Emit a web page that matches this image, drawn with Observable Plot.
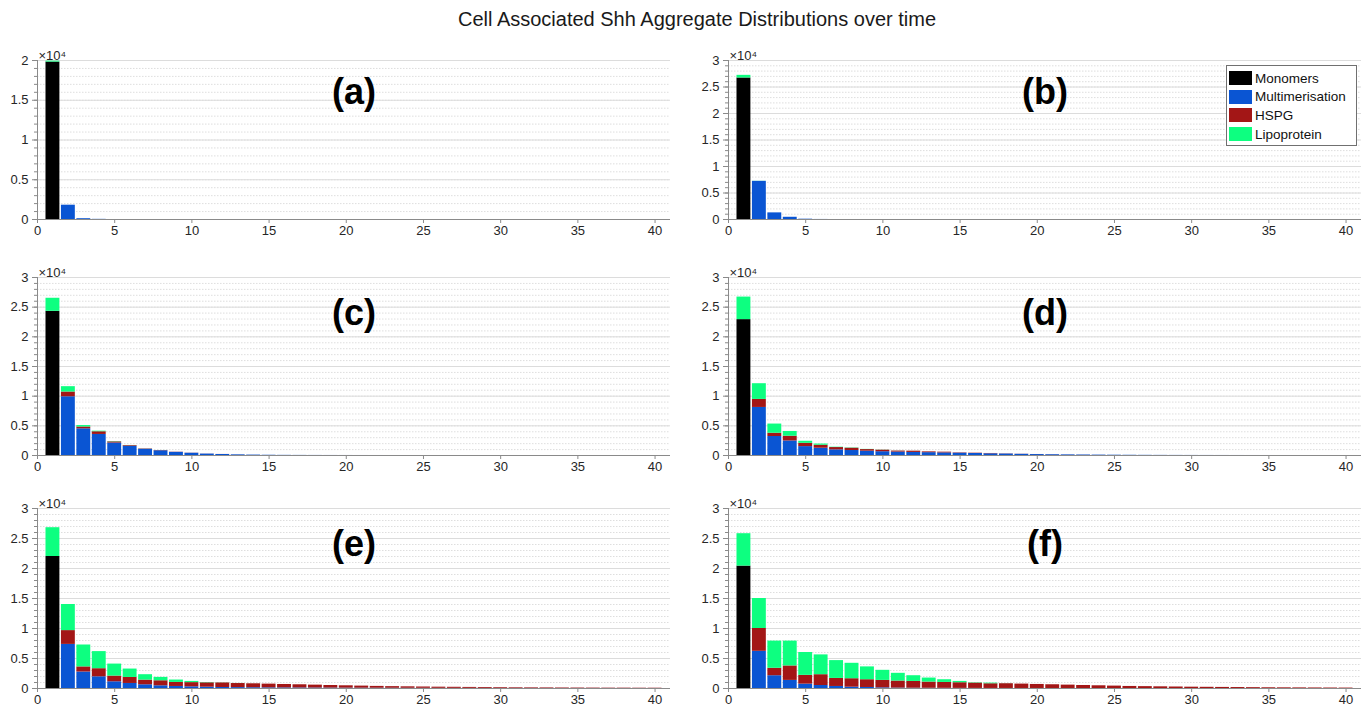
<!DOCTYPE html>
<html>
<head>
<meta charset="utf-8">
<script src="https://cdn.jsdelivr.net/npm/d3@7"></script>
<script src="https://cdn.jsdelivr.net/npm/@observablehq/plot@0.6"></script>
<style>
  html, body { margin: 0; padding: 0; background: #fff; }
  body { font-family: "Liberation Sans", Arial, Helvetica, sans-serif; }
  #wrap { position: relative; width: 1370px; height: 711px; overflow: hidden; background: #fff; }
  #title { position: absolute; left: 12px; top: 8px; width: 1370px; text-align: center; font-size: 20px; color: #1a1a1a; }
  .panel { position: absolute; }
  #legend { position: absolute; left: 1226px; top: 65px; width: 129px; height: 76px; border: 1px solid #707070; background: #fff; box-sizing: content-box; padding-top: 3px; }
  .lrow { display: flex; align-items: center; height: 18.6px; font-size: 13.5px; color: #111; }
  .sw { width: 23px; height: 14px; margin-left: 2px; margin-right: 3px; }
</style>
</head>
<body>
<div id="wrap">
  <div id="title">Cell Associated Shh Aggregate Distributions over time</div>
</div>
<script>
// ---------- data ----------
const categories = ["Monomers", "Multimerisation", "HSPG", "Lipoprotein"];
const colors = ["#000000", "#0a55d3", "#a31616", "#0dff80"];
const sizes = [1,2,3,4,5,6,7,8,9,10, 11,12,13,14,15,16,17,18,19,20, 21,22,23,24,25,26,27,28,29,30, 31,32,33,34,35,36,37,38,39,40];
const xTicks = [0, 5, 10, 15, 20, 25, 30, 35, 40];
const panelLabels = ["(a)", "(b)", "(c)", "(d)", "(e)", "(f)"];
const yMaxes = [20000, 30000, 30000, 30000, 30000, 30000];

// (a)
const aMono  = [19800,0,0,0,0,0,0,0,0,0, 0,0,0,0,0,0,0,0,0,0, 0,0,0,0,0,0,0,0,0,0, 0,0,0,0,0,0,0,0,0,0];
const aMulti = [0,1800,100,20,0,0,0,0,0,0, 0,0,0,0,0,0,0,0,0,0, 0,0,0,0,0,0,0,0,0,0, 0,0,0,0,0,0,0,0,0,0];
const aHspg  = [0,0,0,0,0,0,0,0,0,0, 0,0,0,0,0,0,0,0,0,0, 0,0,0,0,0,0,0,0,0,0, 0,0,0,0,0,0,0,0,0,0];
const aLipo  = [120,0,0,0,0,0,0,0,0,0, 0,0,0,0,0,0,0,0,0,0, 0,0,0,0,0,0,0,0,0,0, 0,0,0,0,0,0,0,0,0,0];
// (b)
const bMono  = [26700,0,0,0,0,0,0,0,0,0, 0,0,0,0,0,0,0,0,0,0, 0,0,0,0,0,0,0,0,0,0, 0,0,0,0,0,0,0,0,0,0];
const bMulti = [0,7200,1250,420,60,10,0,0,0,0, 0,0,0,0,0,0,0,0,0,0, 0,0,0,0,0,0,0,0,0,0, 0,0,0,0,0,0,0,0,0,0];
const bHspg  = [0,0,0,0,0,0,0,0,0,0, 0,0,0,0,0,0,0,0,0,0, 0,0,0,0,0,0,0,0,0,0, 0,0,0,0,0,0,0,0,0,0];
const bLipo  = [500,20,0,0,0,0,0,0,0,0, 0,0,0,0,0,0,0,0,0,0, 0,0,0,0,0,0,0,0,0,0, 0,0,0,0,0,0,0,0,0,0];
// (c)
const cMono  = [24300,0,0,0,0,0,0,0,0,0, 0,0,0,0,0,0,0,0,0,0, 0,0,0,0,0,0,0,0,0,0, 0,0,0,0,0,0,0,0,0,0];
const cMulti = [0,9900,4500,3550,2100,1550,1050,800,530,380, 240,170,110,70,40,25,15,10,6,4, 2,1,0,0,0,0,0,0,0,0, 0,0,0,0,0,0,0,0,0,0];
const cHspg  = [0,800,300,450,200,120,60,40,30,20, 12,8,5,3,2,1,0,0,0,0, 0,0,0,0,0,0,0,0,0,0, 0,0,0,0,0,0,0,0,0,0];
const cLipo  = [2200,900,250,100,50,20,10,5,0,0, 0,0,0,0,0,0,0,0,0,0, 0,0,0,0,0,0,0,0,0,0, 0,0,0,0,0,0,0,0,0,0];
// (d)
const dMono  = [22900,0,0,0,0,0,0,0,0,0, 0,0,0,0,0,0,0,0,0,0, 0,0,0,0,0,0,0,0,0,0, 0,0,0,0,0,0,0,0,0,0];
const dMulti = [0,8100,3200,2450,1500,1230,950,840,730,640, 580,520,480,440,390,340,290,250,200,160, 130,105,85,65,50,38,28,20,14,10, 7,5,3,2,1,1,0,0,0,0];
const dHspg  = [0,1350,550,800,550,500,390,390,270,260, 170,210,130,120,60,50,50,30,20,10, 10,5,5,3,2,1,0,0,0,0, 0,0,0,0,0,0,0,0,0,0];
const dLipo  = [3800,2650,1550,800,350,200,60,50,30,20, 10,5,0,0,0,0,0,0,0,0, 0,0,0,0,0,0,0,0,0,0, 0,0,0,0,0,0,0,0,0,0];
// (e)
const eMono  = [22000,0,0,0,0,0,0,0,0,0, 0,0,0,0,0,0,0,0,0,0, 0,0,0,0,0,0,0,0,0,0, 0,0,0,0,0,0,0,0,0,0];
const eMulti = [0,7350,2750,1950,1120,840,620,450,340,280, 220,170,150,130,110,100,90,80,70,60, 55,50,45,40,35,30,27,24,21,18, 16,14,12,10,9,8,7,6,5,5];
const eHspg  = [0,2300,850,1350,950,1000,780,840,670,700, 730,760,680,655,620,570,530,480,430,390, 345,300,265,240,215,190,175,155,140,122, 105,97,90,80,72,63,55,55,45,45];
const eLipo  = [4800,4350,3650,2850,2000,1400,900,560,400,200, 50,20,10,5,0,0,0,0,0,0, 0,0,0,0,0,0,0,0,0,0, 0,0,0,0,0,0,0,0,0,0];
// (f)
const fMono  = [20400,0,0,0,0,0,0,0,0,0, 0,0,0,0,0,0,0,0,0,0, 0,0,0,0,0,0,0,0,0,0, 0,0,0,0,0,0,0,0,0,0];
const fMulti = [0,6200,2130,1350,730,500,340,220,170,110, 70,50,40,30,20,15,10,8,6,5, 4,3,2,2,1,1,0,0,0,0, 0,0,0,0,0,0,0,0,0,0];
const fHspg  = [0,3800,1240,2410,1460,1800,1340,1410,1290,1240, 1170,1130,1030,980,940,885,780,790,730,670, 620,560,500,450,400,340,310,280,250,220, 200,180,160,140,120,110,100,90,80,70];
const fLipo  = [5400,5000,4530,4140,3810,3300,2970,2570,2140,1680, 1290,950,670,450,220,60,110,10,0,0, 0,0,0,0,0,0,0,0,0,0, 0,0,0,0,0,0,0,0,0,0];

const panelSeries = [
  [aMono, aMulti, aHspg, aLipo],
  [bMono, bMulti, bHspg, bLipo],
  [cMono, cMulti, cHspg, cLipo],
  [dMono, dMulti, dHspg, dLipo],
  [eMono, eMulti, eHspg, eLipo],
  [fMono, fMulti, fHspg, fLipo]
];

// ---------- layout ----------
const cols = [
  {left: 0,   width: 685, ml: 37, mr: 15},
  {left: 685, width: 685, ml: 43, mr: 9}
];
const rowsLayout = [
  {top: 35,  height: 210, mt: 25, mb: 26},
  {top: 250, height: 230, mt: 27, mb: 25},
  {top: 481, height: 230, mt: 27, mb: 23}
];

const wrap = document.getElementById("wrap");
const font = "'Liberation Sans', Arial, Helvetica, sans-serif";

panelSeries.forEach((series, k) => {
  const col = cols[k % 2], row = rowsLayout[Math.floor(k / 2)];
  const yMax = yMaxes[k];
  const data = [];
  sizes.forEach((s, i) => {
    categories.forEach((c, j) => {
      const v = series[j][i];
      if (v > 0) data.push({size: s, cat: c, value: v});
    });
  });
  const majorTicks = d3.range(0, yMax + 1, 5000);
  const minorTicks = d3.range(0, yMax + 1, 1000);
  const plotH = row.height - row.mt - row.mb;

  const chart = Plot.plot({
    width: col.width,
    height: row.height,
    marginLeft: col.ml,
    marginRight: col.mr,
    marginTop: row.mt,
    marginBottom: row.mb,
    style: {fontFamily: font, fontSize: "13px", background: "transparent", overflow: "visible"},
    x: {domain: [0, 41]},
    y: {domain: [0, yMax]},
    color: {domain: categories, range: colors},
    marks: [
      Plot.gridY({ticks: minorTicks, stroke: "#c8c8c8", strokeOpacity: 0.6, strokeDasharray: "1.5,1.5"}),
      Plot.gridY({ticks: majorTicks, stroke: "#dcdcdc", strokeOpacity: 1}),
      Plot.rectY(data, {
        x1: d => d.size - 0.45,
        x2: d => d.size + 0.45,
        y: "value",
        fill: "cat"
      }),
      Plot.ruleY([0], {stroke: "#8a8a8a"}),
      Plot.ruleX([0], {stroke: "#8a8a8a"}),
      Plot.axisX({ticks: xTicks, tickSize: 4, tickPadding: 2, stroke: "#8a8a8a", fill: "#262626", fontSize: 13, label: null}),
      Plot.axisY({ticks: majorTicks, tickSize: 5, tickPadding: 4, tickFormat: d => String(d / 1e4), stroke: "#8a8a8a", fill: "#262626", fontSize: 13, label: null}),
      Plot.axisY({ticks: minorTicks, tickSize: 3, tickFormat: () => "", stroke: "#8a8a8a", label: null}),
      Plot.text(["×10⁴"], {frameAnchor: "top-left", textAnchor: "start", lineAnchor: "bottom", dx: 1, dy: -1, fontSize: 13, fill: "#262626"}),
      Plot.text([panelLabels[k]], {frameAnchor: "top", lineAnchor: "middle", dy: Math.round(plotH * 0.2), fontSize: 36, fontWeight: "bold", fill: "#000"})
    ]
  });
  chart.classList.add("panel");
  chart.style.left = col.left + "px";
  chart.style.top = row.top + "px";
  wrap.appendChild(chart);
});

// ---------- legend ----------
const legend = document.createElement("div");
legend.id = "legend";
categories.forEach((c, j) => {
  const r = document.createElement("div");
  r.className = "lrow";
  const sw = document.createElement("div");
  sw.className = "sw";
  sw.style.background = colors[j];
  const t = document.createElement("span");
  t.textContent = c;
  r.appendChild(sw);
  r.appendChild(t);
  legend.appendChild(r);
});
wrap.appendChild(legend);
</script>
</body>
</html>
